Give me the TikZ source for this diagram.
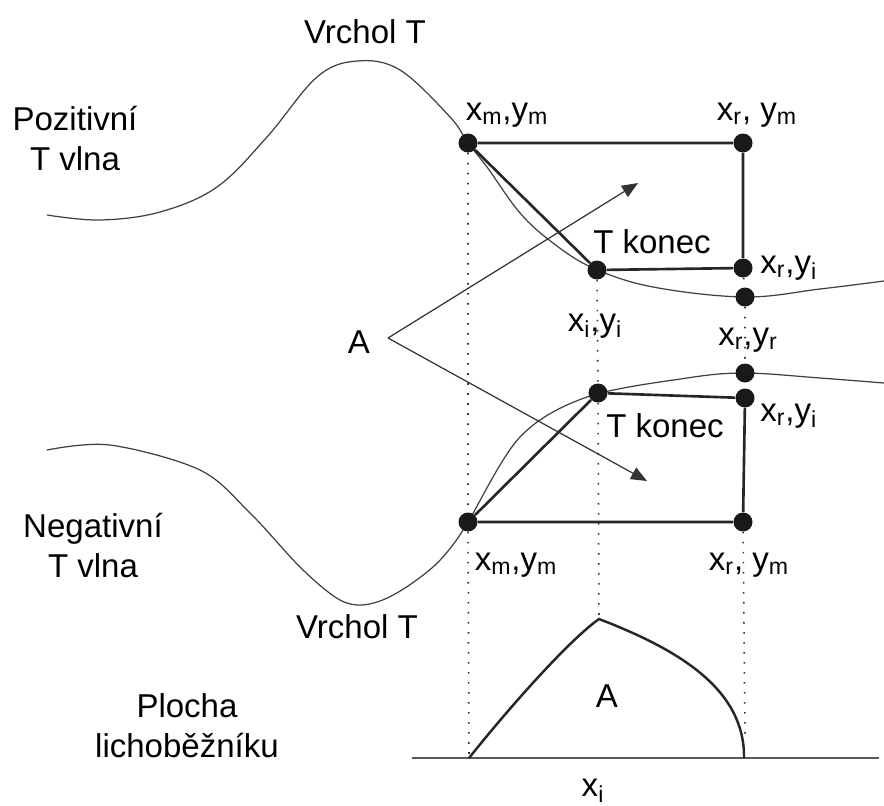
\documentclass[tikz,border=0pt]{standalone}
\usepackage{fontspec}
\setmainfont{Liberation Sans}
\usetikzlibrary{arrows.meta}
\begin{document}
\begin{tikzpicture}[x=0.02cm, y=-0.02cm,
    bod/.style={circle, fill=black!90, inner sep=0pt, minimum size=0.38cm},
    hrana/.style={line width=1.5pt, black!85},
    vlna/.style={line width=0.7pt, black!75},
    pomocna/.style={line width=0.9pt, black!80, dash pattern=on 0.9pt off 4.8pt},
    sipka/.style={line width=0.7pt, black!80, -{Triangle[length=0.32cm, width=0.26cm]}},
    popis/.style={anchor=base, inner sep=0pt, font=\fontsize{18.8}{22.7}\selectfont}]

        \useasboundingbox (0,0) rectangle (884,805);

        % Positive T wave
        \draw[vlna] plot[smooth, tension=0.6] coordinates {(47,215) (100,220) (160,212) (217,187) (267,137) (317,77) (357,61) (400,70) (450,117) (468,143) (487,167) (520,213) (553,243) (593,268) (653,287) (745,297) (820,289) (884,281)};

        % Negative T wave
        \draw[vlna] plot[smooth, tension=0.55] coordinates {(47,450) (110,445) (200,470) (250,513) (300,567) (335,597) (357,605) (380,601) (405,588) (433,567) (452,546) (468,522) (520,437) (587,397) (687,378) (745,373) (820,378) (884,383)};

        % Points of the positive wave
        \node[bod] (pm) at (468,143) {};
        \node[bod] (pr) at (743,143) {};
        \node[bod] (pi) at (597,270) {};
        \node[bod] (pri) at (743,268) {};
        \node[bod] (prr) at (745,297) {};

        % Points of the negative wave
        \node[bod] (nm) at (468,522) {};
        \node[bod] (ni) at (598,393) {};
        \node[bod] (nri) at (745,398) {};
        \node[bod] (nrr) at (745,373) {};
        \node[bod] (nr) at (743,522) {};

        % Area under the trapezoid
        \coordinate (osaL) at (412,758);
        \coordinate (osaP) at (879,758);
        \coordinate (plochaL) at (469,758);
        \coordinate (plochaV) at (599,619);
        \coordinate (plochaP) at (744,758);
        \coordinate (konecR) at (745,736);
        \draw[line width=1.1pt, black!65] (osaL) -- (osaP);
        \draw[hrana, line width=1.4pt] (plochaL) .. controls (517,698) and (572,638) .. (plochaV) .. controls (680,650) and (745,690) .. (plochaP);

        % Dotted guides
        \draw[pomocna] (pm) -- (nm) -- (plochaL);
        \draw[pomocna] (pi) -- (ni) -- (plochaV);
        \draw[pomocna] (pri) -- (prr) -- (nrr);
        \draw[pomocna] (nr) -- (konecR);

        % Trapezoids
        \draw[hrana] (pm) -- (pr) -- (pri) -- (pi) -- (pm);
        \draw[hrana] (nm) -- (ni) -- (nri) -- (nr) -- (nm);

        % Arrows to the areas
        \coordinate (vrcholA) at (388,338);
        \coordinate (hrotH) at (638,183);
        \coordinate (hrotD) at (647,481);
        \draw[sipka] (vrcholA) -- (hrotH);
        \draw[sipka] (vrcholA) -- (hrotD);

        % Labels
        \node[popis] (vrcholT1) at (365,43) {Vrchol T};
        \node[popis, align=center] (pozitivni) at (75,170) {Pozitivní\\T vlna};
        \node[popis] (lpm) at (507,120) {x\textsubscript{m},y\textsubscript{m}};
        \node[popis] (lpr) at (757,120) {x\textsubscript{r}, y\textsubscript{m}};
        \node[popis] (lpi) at (652,253) {T konec};
        \node[popis, anchor=base west] (lpri) at (760,273) {x\textsubscript{r},y\textsubscript{i}};
        \node[popis] (lxi) at (595,331) {x\textsubscript{i},y\textsubscript{i}};
        \node[popis] (lprr) at (748,345) {x\textsubscript{r},y\textsubscript{r}};
        \node[popis] (lA) at (359,353) {A};
        \node[popis] (lni) at (665,437) {T konec};
        \node[popis, anchor=base west] (lnri) at (760,421) {x\textsubscript{r},y\textsubscript{i}};
        \node[popis, align=center] (negativni) at (93,577) {Negativní\\T vlna};
        \node[popis] (lnm) at (516,570) {x\textsubscript{m},y\textsubscript{m}};
        \node[popis] (lnr) at (749,570) {x\textsubscript{r}, y\textsubscript{m}};
        \node[popis] (vrcholT2) at (357,638) {Vrchol T};
        \node[popis] (lAplocha) at (607,707) {A};
        \node[popis, align=center] (plocha) at (187,757) {Plocha\\lichoběžníku};
        \node[popis] (lxj) at (593,796) {x\textsubscript{i}};
    \end{tikzpicture}
\end{document}
